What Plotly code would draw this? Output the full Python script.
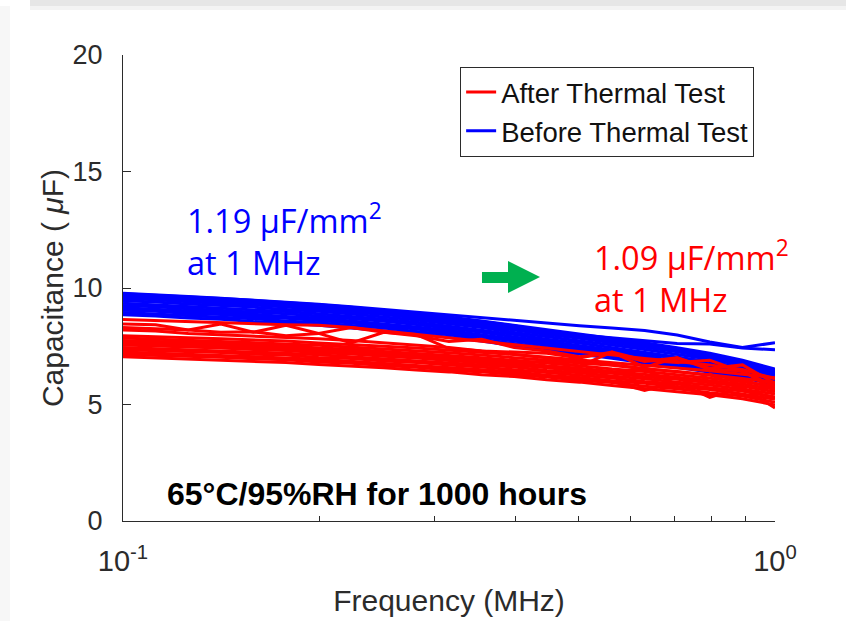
import plotly.graph_objects as go

# ---------------- data ----------------
FREQ = [0.1, 0.1122, 0.1259, 0.1413, 0.1585, 0.1778, 0.1995, 0.2239, 0.2512, 0.2818,
        0.3162, 0.3548, 0.3981, 0.4467, 0.5012, 0.5623, 0.6310, 0.7079, 0.7943, 0.8913, 1.0]

BEFORE = [
    [9.75, 9.69, 9.62, 9.55, 9.47, 9.39, 9.28, 9.17, 9.04, 8.90, 8.76, 8.58, 8.40, 8.22, 8.03, 7.84, 7.65, 7.44, 7.20, 6.90, 6.52],
    [9.68, 9.60, 9.52, 9.46, 9.36, 9.30, 9.18, 9.08, 8.95, 8.82, 8.66, 8.50, 8.30, 8.12, 7.94, 7.75, 7.56, 7.36, 7.12, 6.86, 6.45],
    [9.55, 9.50, 9.41, 9.35, 9.27, 9.18, 9.08, 8.97, 8.86, 8.71, 8.56, 8.38, 8.20, 8.00, 7.84, 7.64, 7.46, 7.26, 7.02, 6.76, 6.40],
    [9.45, 9.40, 9.31, 9.25, 9.18, 9.08, 9.00, 8.88, 8.76, 8.63, 8.47, 8.30, 8.09, 7.92, 7.72, 7.55, 7.36, 7.16, 6.94, 6.68, 6.32],
    [9.35, 9.28, 9.22, 9.14, 9.07, 8.99, 8.90, 8.79, 8.66, 8.53, 8.37, 8.19, 8.00, 7.80, 7.64, 7.44, 7.26, 7.06, 6.84, 6.58, 6.25],
    [9.25, 9.20, 9.11, 9.05, 8.96, 8.90, 8.80, 8.69, 8.57, 8.43, 8.28, 8.10, 7.90, 7.72, 7.52, 7.36, 7.16, 6.98, 6.74, 6.50, 6.16],
    [9.15, 9.08, 9.03, 8.94, 8.88, 8.78, 8.71, 8.58, 8.47, 8.33, 8.18, 8.00, 7.82, 7.62, 7.44, 7.25, 7.08, 6.86, 6.66, 6.40, 6.08],
    [9.05, 9.00, 8.91, 8.86, 8.76, 8.70, 8.60, 8.50, 8.36, 8.24, 8.08, 7.91, 7.71, 7.54, 7.34, 7.17, 6.97, 6.78, 6.56, 6.32, 6.00],
    [8.95, 8.88, 8.83, 8.74, 8.68, 8.58, 8.51, 8.39, 8.28, 8.13, 7.99, 7.80, 7.63, 7.43, 7.26, 7.06, 6.89, 6.68, 6.48, 6.22, 5.92],
    [8.85, 8.80, 8.71, 8.66, 8.56, 8.50, 8.40, 8.30, 8.17, 8.05, 7.89, 7.72, 7.52, 7.35, 7.15, 6.98, 6.78, 6.60, 6.38, 6.15, 5.86],
    [9.62, 9.58, 9.45, 9.42, 9.30, 9.25, 9.13, 9.04, 8.90, 8.79, 8.60, 8.46, 8.24, 8.08, 7.88, 7.70, 7.50, 7.32, 7.06, 6.82, 6.44],
    [9.10, 9.05, 8.97, 8.89, 8.83, 8.73, 8.66, 8.54, 8.42, 8.28, 8.13, 7.96, 7.76, 7.58, 7.40, 7.21, 7.03, 6.82, 6.62, 6.36, 6.04],
    [9.78, 9.72, 9.64, 9.56, 9.48, 9.40, 9.30, 9.20, 9.08, 8.96, 8.84, 8.72, 8.60, 8.48, 8.38, 8.28, 8.18, 7.98, 7.68, 7.45, 7.65],
    [9.65, 9.58, 9.52, 9.44, 9.37, 9.28, 9.20, 9.10, 8.98, 8.86, 8.72, 8.56, 8.38, 8.12, 7.98, 7.86, 7.72, 7.62, 7.60, 7.42, 7.35],
]

AFTER = [
    [8.65, 8.60, 8.55, 8.50, 8.45, 8.42, 8.40, 8.30, 8.15, 8.00, 7.85, 7.70, 7.55, 7.40, 7.25, 7.12, 6.98, 6.85, 6.70, 6.50, 6.10],
    [8.45, 8.42, 8.20, 8.45, 8.10, 8.40, 8.05, 8.30, 8.10, 7.95, 7.70, 7.80, 7.45, 7.30, 7.05, 7.20, 6.85, 7.00, 6.55, 6.70, 5.90],
    [8.30, 8.25, 8.20, 8.10, 8.12, 7.95, 8.05, 7.64, 8.10, 8.00, 7.40, 7.30, 7.25, 7.20, 7.00, 7.25, 6.90, 6.80, 6.90, 6.40, 5.80],
    [8.20, 8.15, 8.05, 8.00, 7.95, 7.90, 7.82, 7.75, 7.65, 7.55, 7.45, 7.30, 7.15, 7.00, 6.85, 6.70, 6.55, 6.40, 6.25, 6.05, 5.70],
    [7.95, 7.92, 7.87, 7.82, 7.78, 7.72, 7.64, 7.58, 7.50, 7.42, 7.34, 7.25, 7.15, 7.03, 6.92, 6.80, 6.68, 6.56, 6.45, 6.30, 6.15],
    [7.85, 7.80, 7.78, 7.70, 7.68, 7.60, 7.54, 7.46, 7.40, 7.30, 7.22, 7.12, 7.02, 6.90, 6.78, 6.68, 6.52, 6.42, 6.28, 6.12, 5.95],
    [7.75, 7.72, 7.66, 7.63, 7.56, 7.52, 7.42, 7.37, 7.27, 7.20, 7.10, 7.01, 6.90, 6.78, 6.66, 6.52, 6.42, 6.28, 6.14, 5.98, 5.78],
    [7.65, 7.60, 7.58, 7.51, 7.48, 7.40, 7.34, 7.25, 7.19, 7.08, 7.00, 6.89, 6.80, 6.66, 6.56, 6.42, 6.30, 6.17, 6.02, 5.88, 5.65],
    [7.55, 7.52, 7.46, 7.43, 7.36, 7.32, 7.22, 7.17, 7.07, 7.00, 6.89, 6.80, 6.69, 6.58, 6.44, 6.34, 6.19, 6.08, 5.92, 5.78, 5.55],
    [7.45, 7.40, 7.38, 7.31, 7.28, 7.20, 7.14, 7.05, 6.99, 6.88, 6.80, 6.69, 6.61, 6.46, 6.36, 6.22, 6.11, 5.96, 5.84, 5.66, 5.45],
    [7.35, 7.32, 7.26, 7.23, 7.16, 7.12, 7.02, 6.97, 6.87, 6.80, 6.69, 6.61, 6.49, 6.38, 6.24, 6.14, 5.99, 5.88, 5.72, 5.58, 5.32],
    [7.25, 7.20, 7.18, 7.11, 7.08, 7.00, 6.94, 6.85, 6.79, 6.68, 6.60, 6.49, 6.41, 6.26, 6.16, 6.02, 5.91, 5.76, 5.64, 5.45, 5.22],
    [7.15, 7.12, 7.06, 7.03, 6.96, 6.92, 6.82, 6.77, 6.67, 6.60, 6.48, 6.40, 6.28, 6.18, 6.04, 5.94, 5.78, 5.68, 5.50, 5.36, 5.10],
    [7.05, 7.00, 6.98, 6.90, 6.88, 6.80, 6.72, 6.66, 6.58, 6.48, 6.40, 6.28, 6.20, 6.06, 5.96, 5.82, 5.70, 5.55, 5.42, 5.25, 4.98],
    [7.20, 7.15, 7.12, 7.05, 7.02, 6.95, 6.88, 6.82, 6.72, 6.65, 6.55, 6.45, 6.35, 6.22, 6.12, 5.98, 5.60, 5.95, 5.30, 5.75, 4.85],
    [7.60, 7.55, 7.52, 7.46, 7.42, 7.36, 7.30, 7.22, 7.14, 7.05, 6.95, 6.85, 6.75, 6.62, 6.50, 6.40, 6.50, 5.85, 6.30, 5.60, 5.30],
    [7.70, 7.66, 7.60, 7.55, 7.50, 7.45, 7.38, 7.30, 7.22, 7.15, 7.05, 6.95, 6.80, 6.85, 6.65, 7.25, 6.60, 7.00, 6.50, 6.45, 5.60],
]

X_TICKS = [0.1, 1.0]
X_TICKTEXT = ["10<sup>-1</sup>", "10<sup>0</sup>"]
X_MINOR = [0.2, 0.3, 0.4, 0.5, 0.6, 0.7, 0.8, 0.9]
Y_TICKS = [0, 5, 10, 15, 20]

# ---------------- figure ----------------
fig = go.Figure()
for i, ys in enumerate(BEFORE):
    fig.add_trace(go.Scatter(x=FREQ, y=ys, mode="lines",
                             line=dict(color="#0000ff", width=3),
                             name="Before Thermal Test", legendgroup="before",
                             legendrank=2, showlegend=(i == 0), hoverinfo="skip"))
for i, ys in enumerate(AFTER):
    fig.add_trace(go.Scatter(x=FREQ, y=ys, mode="lines",
                             line=dict(color="#ff0000", width=3),
                             name="After Thermal Test", legendgroup="after",
                             legendrank=1, showlegend=(i == 0), hoverinfo="skip"))

AX = "#2b2b2b"
FONT = "Liberation Sans, Arial, sans-serif"

fig.update_layout(
    width=846, height=621,
    margin=dict(l=123, r=71, t=55, b=100),
    paper_bgcolor="white", plot_bgcolor="white",
    font=dict(family=FONT, color=AX),
    showlegend=True,
    legend=dict(x=0.968, y=0.975, xanchor="right", yanchor="top",
                bgcolor="white", bordercolor=AX, borderwidth=1,
                font=dict(size=27.5, color="#111111", family=FONT),
                tracegroupgap=0, itemwidth=30),
    xaxis=dict(type="log", range=[-1, 0], tickvals=X_TICKS, ticktext=X_TICKTEXT,
               ticks="inside", ticklen=8, tickcolor=AX, showline=True, linecolor=AX,
               linewidth=1, showgrid=False, zeroline=False, automargin=False,
               tickfont=dict(size=29, color=AX), ticklabelstandoff=14,
               minor=dict(tickvals=X_MINOR, ticks="inside", ticklen=5, tickcolor=AX),
               title=dict(text="Frequency (MHz)", font=dict(size=30, color=AX), standoff=14)),
    yaxis=dict(range=[0, 20], tickvals=Y_TICKS, ticks="inside", ticklen=8, tickcolor=AX,
               showline=True, linecolor=AX, linewidth=1, showgrid=False, zeroline=False,
               automargin=False,
               tickfont=dict(size=27, color=AX), ticklabelstandoff=14,
               title=dict(text="Capacitance ( <i>μ</i>F)", font=dict(size=30, color=AX), standoff=0)),
)

# page decoration (slide edge)
fig.add_shape(type="rect", xref="paper", yref="paper", x0=-0.1426, x1=1.1089, y0=1.1052, y1=1.12,
              fillcolor="#e6e6e6", line_width=0, layer="below")
fig.add_shape(type="rect", xref="paper", yref="paper", x0=-0.1426, x1=1.1089, y0=1.0966, y1=1.1052,
              fillcolor="#f3f3f3", line_width=0, layer="below")
fig.add_shape(type="rect", xref="paper", yref="paper", x0=-0.19, x1=-0.1733, y0=-0.22, y1=1.1052,
              fillcolor="#f7f7f7", line_width=0, layer="below")

# green arrow
fig.add_shape(type="path", xref="paper", yref="paper",
              path="M 0.5506 0.5343 L 0.5905 0.5343 L 0.5905 0.5579 L 0.6396 0.5236 "
                   "L 0.5905 0.4893 L 0.5905 0.5107 L 0.5506 0.5107 Z",
              fillcolor="#00b050", line_width=0)

ANN = "Open Sans, Noto Sans, sans-serif"
fig.add_annotation(xref="paper", yref="paper", x=(185 - 123) / 652, y=(521 - 240) / 466,
                   xanchor="left", yanchor="middle", showarrow=False, align="left",
                   text="1.19 μF/mm<sup>2</sup><br>at 1 MHz",
                   font=dict(family=ANN, size=32.5, color="#0000ff"))
fig.add_annotation(xref="paper", yref="paper", x=(592 - 123) / 652, y=(521 - 277) / 466,
                   xanchor="left", yanchor="middle", showarrow=False, align="left",
                   text="1.09 μF/mm<sup>2</sup><br>at 1 MHz",
                   font=dict(family=ANN, size=32.5, color="#ff0000"))
fig.add_annotation(xref="paper", yref="paper", x=(165 - 123) / 652, y=(521 - 494) / 466,
                   xanchor="left", yanchor="middle", showarrow=False,
                   text="<b>65°C/95%RH for 1000 hours</b>",
                   font=dict(family=FONT, size=32, color="#000000"))

fig.write_html("out.html")
